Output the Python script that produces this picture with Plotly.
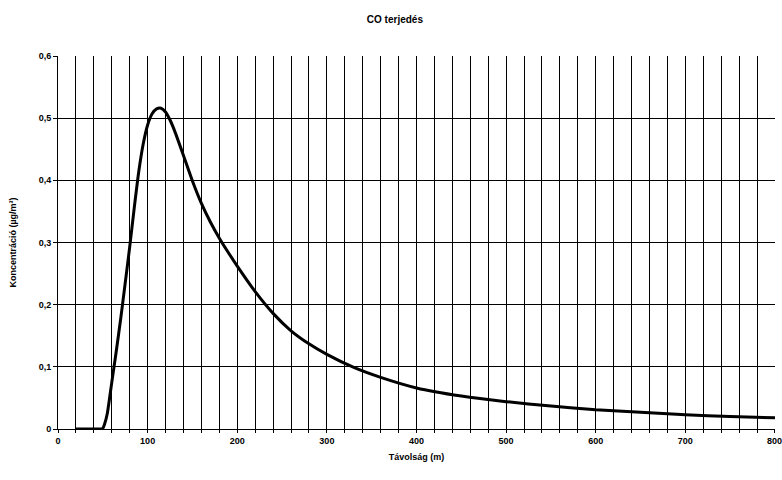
import plotly.graph_objects as go

distance_m = [20, 30, 40, 48, 50, 52, 55, 60, 65, 70, 75, 80, 85, 90, 95, 100, 105, 110,
              115, 120, 125, 130, 140, 150, 160, 170, 180, 190, 200, 220, 240, 260, 280,
              300, 330, 360, 400, 450, 500, 550, 600, 650, 700, 750, 800]
concentration = [0, 0, 0, 0, 0.001, 0.008, 0.025, 0.075, 0.125, 0.178, 0.235, 0.293, 0.355,
                 0.413, 0.458, 0.489, 0.507, 0.515, 0.516, 0.51, 0.497, 0.48, 0.44, 0.399,
                 0.363, 0.333, 0.307, 0.284, 0.262, 0.221, 0.186, 0.158, 0.137, 0.12, 0.099,
                 0.083, 0.066, 0.053, 0.044, 0.037, 0.031, 0.027, 0.023, 0.02, 0.018]

x_ticks = list(range(0, 801, 20))
x_labels = [f"<b>{v}</b>" if v % 100 == 0 else "" for v in x_ticks]
y_ticks = [0, 0.1, 0.2, 0.3, 0.4, 0.5, 0.6]
y_labels = ["<b>0</b>", "<b>0,1</b>", "<b>0,2</b>", "<b>0,3</b>", "<b>0,4</b>", "<b>0,5</b>", "<b>0,6</b>"]

fig = go.Figure()
fig.add_trace(go.Scatter(
    x=distance_m, y=concentration, mode="lines",
    line=dict(color="black", width=3, shape="spline", smoothing=0.6),
    showlegend=False, hoverinfo="skip"))

font = dict(family="Liberation Sans, Arial, sans-serif", size=9, color="black")

fig.update_layout(
    width=782, height=480,
    paper_bgcolor="white", plot_bgcolor="white",
    margin=dict(l=58, r=7, t=56, b=51),
    font=font,
    title=dict(text="<b>CO terjedés</b>", x=0.505, xanchor="center", y=0.96, yanchor="middle",
               font=dict(family="Liberation Sans, Arial, sans-serif", size=10, color="black")),
    xaxis=dict(range=[-0.01, 800.01], tickvals=x_ticks, ticktext=x_labels, showgrid=True,
               gridcolor="black", gridwidth=1, showline=True, linecolor="black", linewidth=1,
               ticks="outside", ticklen=3, tickcolor="black", zeroline=False,
               title=dict(text="<b>Távolság (m)</b>", standoff=8, font=font)),
    yaxis=dict(range=[0, 0.6], tickvals=y_ticks, ticktext=y_labels, showgrid=True,
               gridcolor="black", gridwidth=1, showline=True, linecolor="black", linewidth=1,
               ticks="outside", ticklen=4, tickcolor="black", zeroline=False,
               title=dict(text="<b>Koncentráció (µg/m³)</b>", standoff=20, font=font)),
)

# last x tick label overflows the page edge, so add it explicitly
fig.add_annotation(x=x_ticks[-1], xref="x", y=0, yref="paper", yanchor="top", yshift=-5,
                   text=x_labels[-1], showarrow=False, font=font)

fig.write_html("out.html")
